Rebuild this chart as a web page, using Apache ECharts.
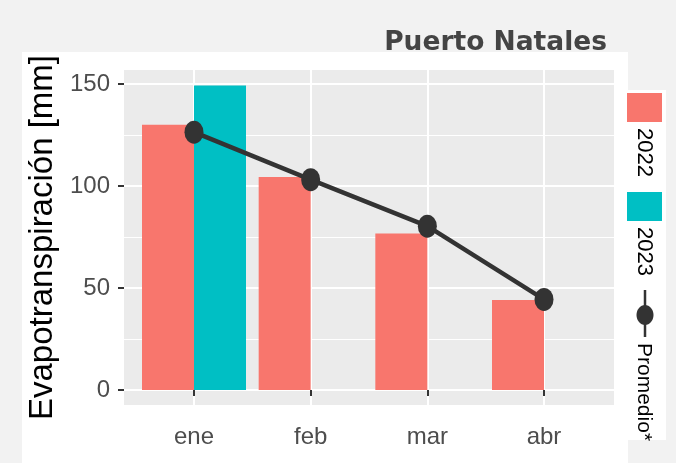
<!DOCTYPE html>
<html>
<head>
<meta charset="utf-8">
<script src="https://cdn.jsdelivr.net/npm/echarts@6/dist/echarts.min.js"></script>
<style>
  html,body{margin:0;padding:0;background:#f2f2f2;}
  #main{width:676px;height:463px;}
</style>
</head>
<body>
<div id="main"></div>
<script>
var months = ["ene", "feb", "mar", "abr"];
var y2022 = [130, 104.4, 76.7, 44.1];
var y2023 = [149.3];
var promedio = [126.4, 103.1, 80.3, 44.4];
var yTicks = [0, 50, 100, 150];
var yMinor = [25, 75, 125];
var xTicks = [1, 2, 3, 4];

function pairs(arr) {
  return arr.map(function (v, i) { return [i + 1, v] })
}

var arial = "'Liberation Sans', Arial, sans-serif";
var chart = echarts.init(document.getElementById("main"));

// legend is drawn by hand because the keys and labels are rotated
var legendText = {fontSize: 22, fontFamily: arial, fill: "#000", align: "left", verticalAlign: "middle"};

var option = {
  backgroundColor: "#f2f2f2",
  animation: false,
  title: {
    text: "Puerto Natales",
    right: 64,
    top: 25,
    textStyle: {
      fontFamily: "'DejaVu Sans', sans-serif",
      fontWeight: "bold",
      fontSize: 26.5,
      color: "#444444"
    }
  },
  graphic: [
    {type: "rect", z: -10, shape: {x: 22, y: 52, width: 606, height: 411}, style: {fill: "#ffffff"}},
    {type: "rect", z: -10, shape: {x: 625, y: 90, width: 41, height: 350}, style: {fill: "#ffffff"}},
    {type: "rect", shape: {x: 627, y: 93, width: 35, height: 29}, style: {fill: "#F8766D"}},
    {type: "text", x: 644, y: 128, rotation: -Math.PI / 2, style: Object.assign({text: "2022"}, legendText)},
    {type: "rect", shape: {x: 627, y: 192, width: 35, height: 29}, style: {fill: "#00BFC4"}},
    {type: "text", x: 644, y: 227, rotation: -Math.PI / 2, style: Object.assign({text: "2023"}, legendText)},
    {type: "line", shape: {x1: 645, y1: 290, x2: 645, y2: 337}, style: {stroke: "#333333", lineWidth: 2.5}},
    {type: "ellipse", shape: {cx: 645, cy: 315, rx: 8.5, ry: 10}, style: {fill: "#333333"}},
    {type: "text", x: 644, y: 343, rotation: -Math.PI / 2, style: Object.assign({text: "Promedio*"}, legendText, {fontSize: 21})}
  ],
  grid: {
    left: 124,
    right: 62,
    top: 70,
    bottom: 58,
    show: true,
    backgroundColor: "#ebebeb",
    borderWidth: 0
  },
  xAxis: {
    type: "value",
    min: 0.4,
    max: 4.6,
    axisLine: {show: false},
    axisTick: {
      customValues: xTicks,
      length: 6,
      lineStyle: {color: "#333333", width: 2}
    },
    axisLabel: {
      customValues: xTicks,
      margin: 20,
      fontSize: 24,
      fontFamily: arial,
      color: "#4d4d4d",
      formatter: function (v) { return months[Math.round(v) - 1] }
    },
    splitLine: {show: true, lineStyle: {color: "#ffffff", width: 2}}
  },
  yAxis: [
    {
      type: "value",
      min: -7.4,
      max: 156.9,
      name: "Evapotranspiración [mm]",
      nameLocation: "middle",
      nameGap: 53,
      nameTextStyle: {
        fontSize: 33,
        fontFamily: arial,
        color: "#000000"
      },
      axisLine: {show: false},
      axisTick: {
        customValues: yTicks,
        length: 6,
        lineStyle: {color: "#333333", width: 2}
      },
      axisLabel: {
        customValues: yTicks,
        margin: 14,
        fontSize: 24,
        fontFamily: arial,
        color: "#4d4d4d"
      },
      splitLine: {show: true, lineStyle: {color: "#ffffff", width: 2}}
    },
    {
      type: "value",
      min: -7.4,
      max: 156.9,
      position: "left",
      axisLine: {show: false},
      axisTick: {show: false, customValues: yMinor},
      axisLabel: {show: false},
      splitLine: {show: true, lineStyle: {color: "#ffffff", width: 1}}
    }
  ],
  series: [
    {
      name: "2022",
      type: "bar",
      barWidth: 52,
      barGap: "0%",
      itemStyle: {color: "#F8766D"},
      data: pairs(y2022)
    },
    {
      name: "2023",
      type: "bar",
      barWidth: 52,
      barGap: "0%",
      itemStyle: {color: "#00BFC4"},
      data: pairs(y2023)
    },
    {
      name: "Promedio*",
      type: "line",
      z: 5,
      symbol: "circle",
      symbolSize: [19, 23],
      lineStyle: {color: "#333333", width: 4.5},
      itemStyle: {color: "#333333"},
      data: pairs(promedio)
    }
  ]
};
chart.setOption(option);
</script>
</body>
</html>
